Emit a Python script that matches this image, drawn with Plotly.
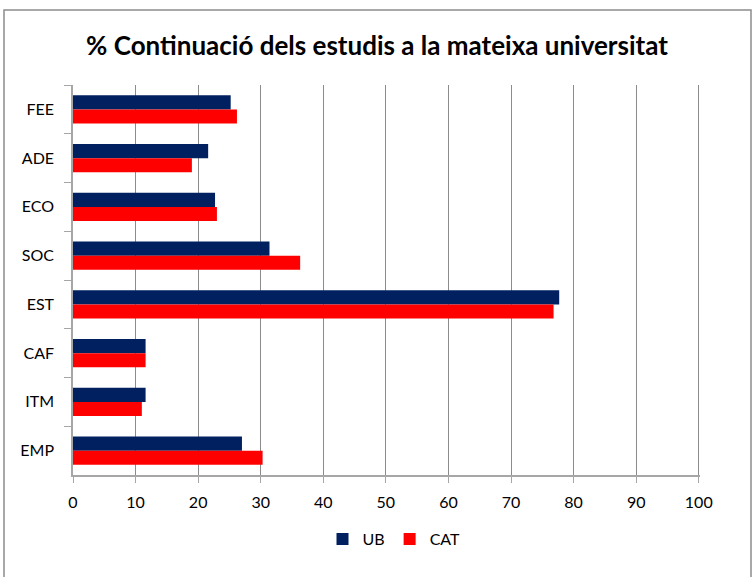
import plotly.graph_objects as go

categories = ["FEE", "ADE", "ECO", "SOC", "EST", "CAF", "ITM", "EMP"]
ub_values = [25.2, 21.6, 22.7, 31.4, 77.7, 11.6, 11.6, 27.0]
cat_values = [26.2, 19.0, 23.0, 36.3, 76.8, 11.6, 11.0, 30.3]
x_ticks = list(range(0, 101, 10))

FONT = "Lato, 'Open Sans', sans-serif"

fig = go.Figure()
fig.add_trace(go.Bar(y=categories, x=ub_values, orientation="h", name="UB",
                     marker=dict(color="#002060", line=dict(width=0))))
fig.add_trace(go.Bar(y=categories, x=cat_values, orientation="h", name="CAT",
                     marker=dict(color="#FF0000", line=dict(width=0))))

W, H = 754, 577
l, r, t, b = 73, 54, 85, 102
pw, ph = W - l - r, H - t - b

def px_x(p):
    return (p - l) / pw

def px_y(p):
    return 1 - (p - t) / ph

fig.update_layout(
    width=W, height=H,
    margin=dict(l=l, r=r, t=t, b=b),
    paper_bgcolor="white", plot_bgcolor="white",
    barmode="group", bargap=0.42, bargroupgap=0,
    title=dict(text="<b>% Continuació dels estudis a la mateixa universitat</b>",
               x=0.5, xanchor="center", y=1 - 46 / H, yanchor="middle",
               font=dict(family=FONT, size=26, color="black")),
    font=dict(family=FONT, size=16, color="black"),
    xaxis=dict(range=[0, 100.2], tickvals=x_ticks, showgrid=True,
               gridcolor="#8c8c8c", gridwidth=1, zeroline=False,
               showline=True, linecolor="#a6a6a6", linewidth=1.5,
               ticks="outside", ticklen=6, tickcolor="#a6a6a6",
               ticklabelstandoff=6,
               tickfont=dict(size=16, color="black")),
    yaxis=dict(autorange="reversed", showgrid=False, zeroline=False,
               showline=True, linecolor="#a6a6a6", linewidth=1.5,
               ticks="outside", ticklen=7, tickcolor="#a6a6a6",
               tickson="boundaries",
               tickfont=dict(size=16, color="black"), ticklabelstandoff=14),
    legend=dict(orientation="h", x=px_x(394), xanchor="center",
                y=px_y(539), yanchor="middle",
                font=dict(size=16, color="black"), itemwidth=30,
                tracegroupgap=0, traceorder="normal"),
    showlegend=True,
    shapes=[dict(type="rect", xref="paper", yref="paper",
                 x0=px_x(4), x1=px_x(751), y0=px_y(578), y1=px_y(10),
                 line=dict(color="#8c8c8c", width=1.5), fillcolor="rgba(0,0,0,0)",
                 layer="below")],
)

fig.write_html("out.html", config={"displayModeBar": False},
               post_script="document.body.style.margin='0';document.body.style.padding='0';")
